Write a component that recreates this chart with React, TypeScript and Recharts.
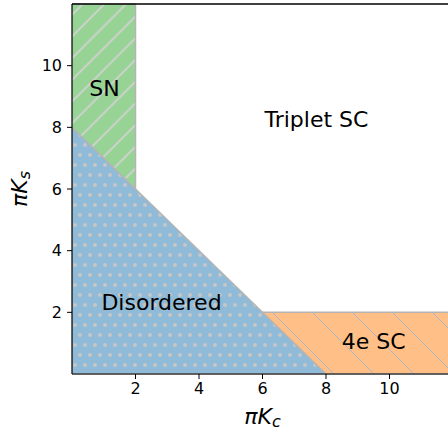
import React from "react";
import {
  ComposedChart,
  Area,
  XAxis,
  YAxis,
  ReferenceLine,
  ReferenceDot,
} from "recharts";

// phase boundaries sampled along πK_c
const kc = [0, 2, 6, 8, 12];
const disorderedTop = [8, 6, 2, 0, null];
const snBottom = [8, 6, null, null, null];
const fourEBottom = [null, null, 2, 0, 0];
const snTop = 12;
const fourETop = 2;

const ticks = [2, 4, 6, 8, 10];

const phaseLabels = [
  { name: "SN", x: 1.02, y: 9.26 },
  { name: "Triplet SC", x: 7.7, y: 8.26 },
  { name: "Disordered", x: 2.82, y: 2.33 },
  { name: "4e SC", x: 9.5, y: 1.06 },
];

const FONT = "DejaVu Sans, sans-serif";
const EDGE = "#b4b4b4";

const data = kc.map((x, i) => ({
  kc: x,
  disordered: disorderedTop[i] == null ? null : [0, disorderedTop[i]],
  sn: snBottom[i] == null ? null : [snBottom[i], snTop],
  fourE: fourEBottom[i] == null ? null : [fourEBottom[i], fourETop],
}));

function Hatches() {
  return (
    <svg width={0} height={0} style={{ position: "absolute" }}>
      <defs>
        <pattern id="hatch-sn" width={21.7} height={21.7} patternUnits="userSpaceOnUse">
          <rect width={21.7} height={21.7} fill="#97d395" />
          <path
            d="M0,21.7 L21.7,0 M-2,2 L2,-2 M19.7,23.7 L23.7,19.7"
            stroke="#d2d2d2"
            strokeWidth={1.8}
          />
        </pattern>
        <pattern id="hatch-4e" width={40} height={40} patternUnits="userSpaceOnUse">
          <rect width={40} height={40} fill="#ffbf86" />
          <path
            d="M0,0 L40,40 M-2,38 L2,42 M38,-2 L42,2"
            stroke="#a7b9c9"
            strokeWidth={1}
          />
        </pattern>
        <pattern id="dots-dis" width={10} height={20} patternUnits="userSpaceOnUse">
          <rect width={10} height={20} fill="#8fbbd9" />
          <circle cx={5} cy={5} r={2} fill="#c6c6c6" />
          <circle cx={0} cy={15} r={2} fill="#c6c6c6" />
          <circle cx={10} cy={15} r={2} fill="#c6c6c6" />
        </pattern>
      </defs>
    </svg>
  );
}

function AxisTitle(props: any) {
  const { viewBox, sub, vertical } = props;
  if (!viewBox) return null;
  const { x, y, width, height } = viewBox;
  const cx = vertical ? 19 : x + width / 2;
  const cy = vertical ? y + height / 2 : y + 42;
  return (
    <text
      x={cx}
      y={cy}
      textAnchor="middle"
      fontFamily={FONT}
      fontSize={22}
      fill="#000"
      transform={vertical ? `rotate(-90, ${cx}, ${cy})` : undefined}
      dominantBaseline="central"
    >
      <tspan fontStyle="italic">πK</tspan>
      <tspan fontStyle="italic" fontSize={16} dy={5}>
        {sub}
      </tspan>
    </text>
  );
}

export default function App() {
  return (
    <div style={{ position: "absolute", left: 0, top: 0, width: 448, height: 438, overflow: "hidden", background: "#fff" }}>
      <Hatches />
      <ComposedChart
        width={453}
        height={438}
        data={data}
        margin={{ top: 4, right: 0, left: 0, bottom: 0 }}
      >
        <XAxis
          dataKey="kc"
          type="number"
          domain={[0, 12]}
          ticks={ticks}
          tickSize={5}
          tickMargin={4}
          height={64}
          stroke="#000"
          tick={{ fill: "#000", fontSize: 16, fontFamily: FONT }}
          axisLine={{ stroke: "#000", strokeWidth: 1.2 }}
          label={<AxisTitle sub="c" />}
        />
        <YAxis
          type="number"
          domain={[0, 12]}
          ticks={ticks}
          tickSize={5}
          tickMargin={5}
          width={72}
          stroke="#000"
          tick={{ fill: "#000", fontSize: 16, fontFamily: FONT }}
          axisLine={{ stroke: "#000", strokeWidth: 1.2 }}
          label={<AxisTitle sub="s" vertical />}
        />
        <Area
          dataKey="disordered"
          type="linear"
          fill="url(#dots-dis)"
          fillOpacity={1}
          stroke={EDGE}
          strokeWidth={1.5}
          isAnimationActive={false}
        />
        <Area
          dataKey="sn"
          type="linear"
          fill="url(#hatch-sn)"
          fillOpacity={1}
          stroke={EDGE}
          strokeWidth={1.5}
          isAnimationActive={false}
        />
        <Area
          dataKey="fourE"
          type="linear"
          fill="url(#hatch-4e)"
          fillOpacity={1}
          stroke={EDGE}
          strokeWidth={1.5}
          isAnimationActive={false}
        />
        <ReferenceLine
          segment={[
            { x: 2, y: 6 },
            { x: 2, y: snTop },
          ]}
          stroke={EDGE}
          strokeWidth={1.5}
        />
        <ReferenceLine y={12} stroke="#000" strokeWidth={1.5} />
        {phaseLabels.map((p) => (
          <ReferenceDot
            key={p.name}
            x={p.x}
            y={p.y}
            r={1}
            fill="none"
            stroke="none"
            label={{
              value: p.name,
              position: "center",
              fill: "#000",
              fontSize: 22,
              fontFamily: FONT,
            }}
          />
        ))}
      </ComposedChart>
    </div>
  );
}
